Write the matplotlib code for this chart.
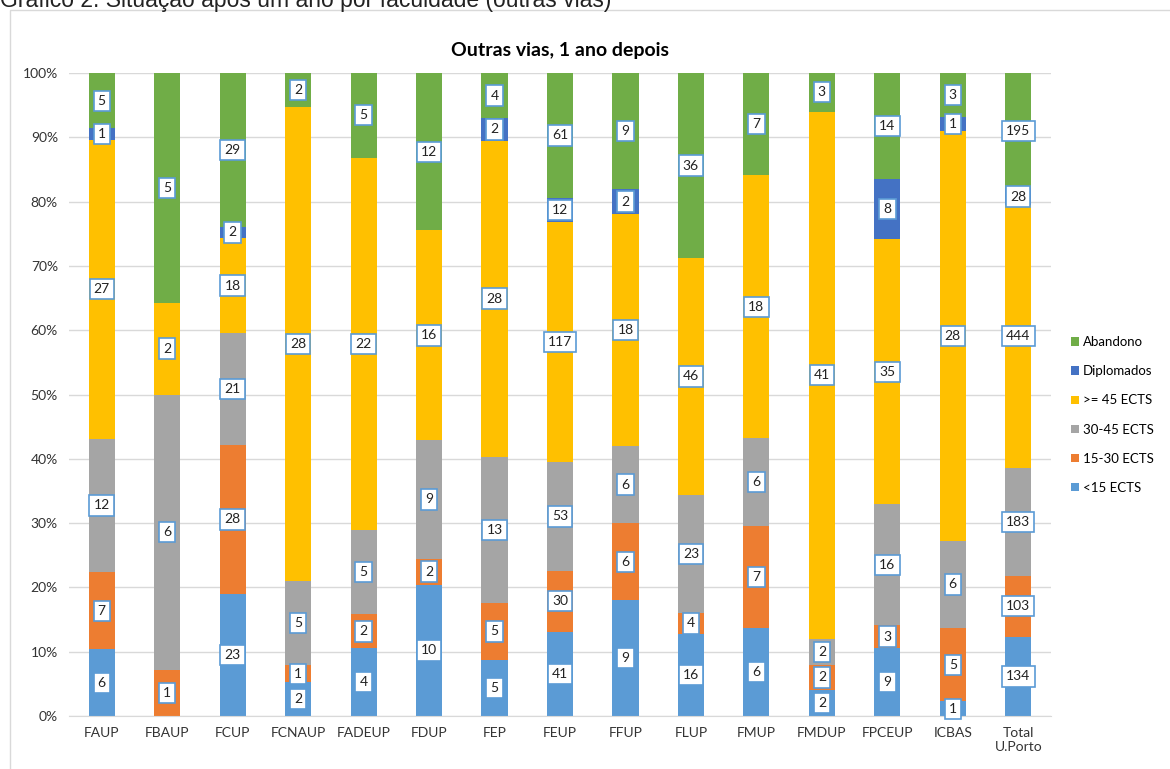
import matplotlib.pyplot as plt
import numpy as np

categories = ["FAUP", "FBAUP", "FCUP", "FCNAUP", "FADEUP", "FDUP", "FEP", "FEUP",
              "FFUP", "FLUP", "FMUP", "FMDUP", "FPCEUP", "ICBAS", "Total\nU.Porto"]

# contagens por situação (de baixo para cima)
lt15 = [6, 0, 23, 2, 4, 10, 5, 41, 9, 16, 6, 2, 9, 1, 134]
e15_30 = [7, 1, 28, 1, 2, 2, 5, 30, 6, 4, 7, 2, 3, 5, 103]
e30_45 = [12, 6, 21, 5, 5, 9, 13, 53, 6, 23, 6, 2, 16, 6, 183]
ge45 = [27, 2, 18, 28, 22, 16, 28, 117, 18, 46, 18, 41, 35, 28, 444]
diplomados = [1, 0, 2, 0, 0, 0, 2, 12, 2, 0, 0, 0, 8, 1, 28]
abandono = [5, 5, 29, 2, 5, 12, 4, 61, 9, 36, 7, 3, 14, 3, 195]

series = [
    ("<15 ECTS", lt15, "#5B9BD5"),
    ("15-30 ECTS", e15_30, "#ED7D31"),
    ("30-45 ECTS", e30_45, "#A5A5A5"),
    (">= 45 ECTS", ge45, "#FFC000"),
    ("Diplomados", diplomados, "#4472C4"),
    ("Abandono", abandono, "#70AD47"),
]

font = ["Lato", "DejaVu Sans"]

fig = plt.figure(figsize=(11.7, 7.69), dpi=100)
fig.text(0.0, 1 - 1 / 769, "Gráfico 2. Situação após um ano por faculdade (outras vias)",
         fontsize=16.5, family=["Liberation Sans"], va="center", ha="left", color="#222222")
fig.add_artist(plt.Rectangle((10 / 1170, -0.01), 1.0, 1 - 10 / 769 + 0.01,
                             transform=fig.transFigure, fill=False,
                             edgecolor="#D9D9D9", linewidth=1))

ax = fig.add_axes([69 / 1170, 53 / 769, (1051 - 69) / 1170, (716 - 73) / 769])

x = np.arange(len(categories))
totals = np.sum([s[1] for s in series], axis=0)
bottom = np.zeros(len(categories))
handles = []
for name, vals, color in series:
    pct = np.array(vals) / totals * 100
    b = ax.bar(x, pct, 0.4, bottom=bottom, color=color, label=name, zorder=2)
    handles.append(b)
    for xi, v, p, bt in zip(x, vals, pct, bottom):
        if v > 0:
            ax.text(xi, bt + p / 2, str(v), ha="center", va="center",
                    fontsize=10, family=font, color="#222222", zorder=4,
                    bbox=dict(boxstyle="square,pad=0.3", facecolor="white",
                              edgecolor="#5B9BD5", linewidth=1.2))
    bottom = bottom + pct

ax.set_xlim(-0.5, len(categories) - 0.5)
ax.set_ylim(0, 100)
ax.set_yticks(np.arange(0, 101, 10))
ax.set_yticklabels([f"{t}%" for t in range(0, 101, 10)], family=font, fontsize=10)
ax.set_xticks(x)
ax.set_xticklabels(categories, family=font, fontsize=10)
ax.tick_params(length=0, pad=8, colors="#333333")
ax.yaxis.grid(True, color="#D9D9D9", linewidth=1, zorder=0)
for sp in ["top", "right", "left"]:
    ax.spines[sp].set_visible(False)
ax.spines["bottom"].set_color("#D9D9D9")

ax.set_title("Outras vias, 1 ano depois", family=font, fontsize=14,
             fontweight="bold", pad=12)

leg = fig.legend(handles[::-1], [s[0] for s in series][::-1],
                 loc="center left", bbox_to_anchor=(1068 / 1170, 1 - 415 / 769),
                 frameon=False, prop={"family": font, "size": 9.5},
                 handlelength=0.6, handleheight=0.6, handletextpad=0.3,
                 labelspacing=1.3, borderaxespad=0, borderpad=0.2)

fig.savefig("out.png", dpi=100)
